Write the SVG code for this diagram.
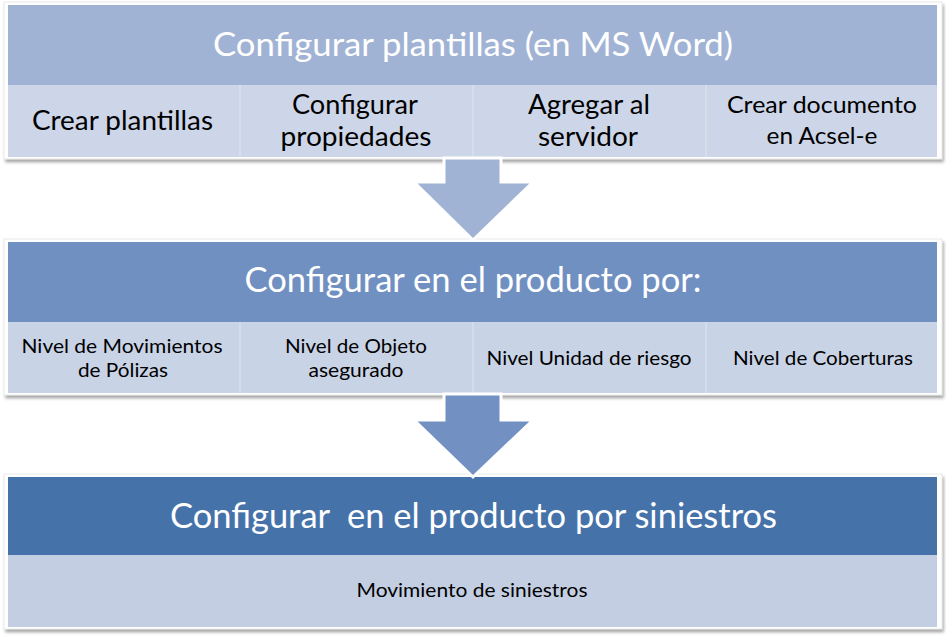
<svg xmlns="http://www.w3.org/2000/svg" width="946" height="640" viewBox="0 0 946 640">
<defs>
<filter id="sh" x="-5%" y="-10%" width="110%" height="125%">
<feDropShadow dx="1.5" dy="3" stdDeviation="1.5" flood-color="#000" flood-opacity="0.35"/>
</filter>
<style>
.frame{fill:#fff;stroke:#d9d9d9;stroke-width:0.6}
.h1{fill:#A1B3D5}.s1{fill:#CDD6E8}
.h2{fill:#7090C2}.s2{fill:#C8D3E6}
.h3{fill:#4672AA}.s3{fill:#C3CEE3}
.div{stroke:#DCE3EF;stroke-width:1.2}
.ht{font-family:Lato,"Open Sans",sans-serif;fill:#fff;text-anchor:middle}
.ct{font-family:Lato,"Open Sans",sans-serif;fill:#000;text-anchor:middle}
.ar{stroke:#fff;stroke-width:3;stroke-linejoin:miter}
</style>
</defs>
<g id="block1">
<rect class="frame" x="4" y="2" width="938" height="157" filter="url(#sh)"/>
<rect class="h1" x="8" y="5" width="929" height="80"/>
<rect class="s1" x="8" y="85" width="929" height="72"/>
<line class="div" x1="240" y1="85" x2="240" y2="157"/>
<line class="div" x1="473" y1="85" x2="473" y2="157"/>
<line class="div" x1="706" y1="85" x2="706" y2="157"/>
<text class="ht" x="473" y="56" font-size="32" textLength="520" lengthAdjust="spacingAndGlyphs">Configurar plantillas (en MS Word)</text>
<text class="ct" x="122.5" y="130" font-size="27" textLength="181" lengthAdjust="spacingAndGlyphs">Crear plantillas</text>
<text class="ct" x="355" y="114" font-size="27" textLength="126" lengthAdjust="spacingAndGlyphs">Configurar</text>
<text class="ct" x="356" y="146" font-size="27" textLength="151" lengthAdjust="spacingAndGlyphs">propiedades</text>
<text class="ct" x="589" y="114" font-size="27" textLength="122" lengthAdjust="spacingAndGlyphs">Agregar al</text>
<text class="ct" x="588" y="146" font-size="27" textLength="100" lengthAdjust="spacingAndGlyphs">servidor</text>
<text class="ct" x="822" y="113" font-size="23" textLength="190" lengthAdjust="spacingAndGlyphs">Crear documento</text>
<text class="ct" x="822" y="144" font-size="23" textLength="111" lengthAdjust="spacingAndGlyphs">en Acsel-e</text>
</g>
<g id="block2">
<rect class="frame" x="4" y="239" width="938" height="156" filter="url(#sh)"/>
<rect class="h2" x="8" y="242" width="929" height="80"/>
<rect class="s2" x="8" y="322" width="929" height="71"/>
<line class="div" x1="240" y1="322" x2="240" y2="393"/>
<line class="div" x1="473" y1="322" x2="473" y2="393"/>
<line class="div" x1="706" y1="322" x2="706" y2="393"/>
<text class="ht" x="473" y="292" font-size="34" textLength="457" lengthAdjust="spacingAndGlyphs">Configurar en el producto por:</text>
<text class="ct" x="122" y="353" font-size="20" textLength="201" lengthAdjust="spacingAndGlyphs">Nivel de Movimientos</text>
<text class="ct" x="123" y="377" font-size="20" textLength="90" lengthAdjust="spacingAndGlyphs">de Pólizas</text>
<text class="ct" x="356" y="353" font-size="20" textLength="142" lengthAdjust="spacingAndGlyphs">Nivel de Objeto</text>
<text class="ct" x="356" y="377" font-size="20" textLength="95" lengthAdjust="spacingAndGlyphs">asegurado</text>
<text class="ct" x="589" y="365" font-size="20" textLength="205" lengthAdjust="spacingAndGlyphs">Nivel Unidad de riesgo</text>
<text class="ct" x="823" y="365" font-size="20" textLength="180" lengthAdjust="spacingAndGlyphs">Nivel de Coberturas</text>
</g>
<g id="block3">
<rect class="frame" x="4" y="474" width="938" height="155" filter="url(#sh)"/>
<rect class="h3" x="8" y="477" width="929" height="78"/>
<rect class="s3" x="8" y="555" width="929" height="72"/>
<text class="ht" x="473.5" y="528" font-size="34" textLength="607" lengthAdjust="spacingAndGlyphs" xml:space="preserve">Configurar  en el producto por siniestros</text>
<text class="ct" x="472" y="597" font-size="19" textLength="231" lengthAdjust="spacingAndGlyphs">Movimiento de siniestros</text>
</g>
<g id="connectors">
<path class="ar" fill="#A1B3D5" d="M444,158 L501,158 L501,182 L533,182 L473,240 L414,182 L444,182 Z"/>
<path class="ar" fill="#7291C2" d="M444,394 L501,394 L501,420 L533,420 L473,477 L414,420 L444,420 Z"/>
</g>
</svg>
